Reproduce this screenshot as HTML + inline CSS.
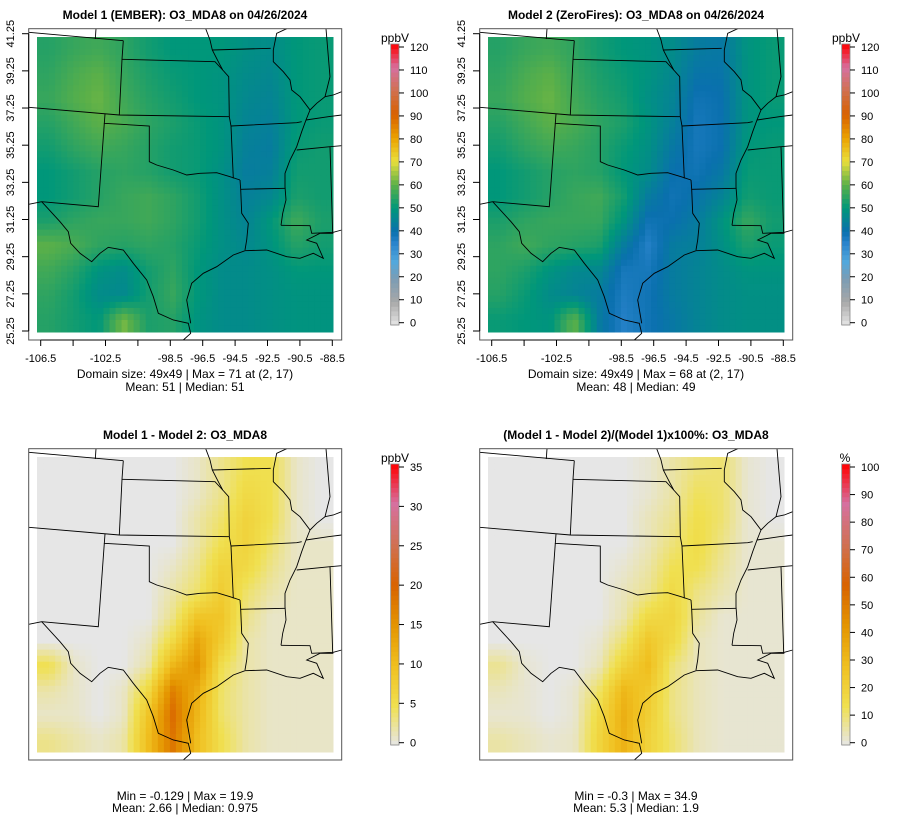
<!DOCTYPE html>
<html><head><meta charset="utf-8">
<style>
html,body{margin:0;padding:0;background:#fff;}
svg{display:block;font-family:"Liberation Sans",Arial,sans-serif;}
</style></head>
<body>
<svg id="fig" width="900" height="840" viewBox="0 0 900 840" xmlns="http://www.w3.org/2000/svg"></svg>
<script>
// ---- data (12x12 coarse grids, rows north->south, cols west->east) ----
const model1Grid = [
[54,56,57,55,52,50,50,50,48,47,50,51],
[55,58,60,56,53,51,50,49,47,46,50,51],
[56,59,61,57,54,52,50,49,46,45,50,51],
[54,57,60,58,55,53,51,49,45,44,50,51],
[52,55,57,56,54,52,51,49,44,43,51,52],
[50,52,54,55,54,52,51,48,43,44,52,52],
[50,52,54,56,57,55,52,48,44,46,53,52],
[53,55,56,56,57,55,52,48,45,50,57,53],
[60,58,55,54,55,54,51,48,46,49,54,52],
[57,54,49,47,52,55,50,47,47,48,50,50],
[55,52,47,46,52,56,50,47,47,48,49,49],
[54,52,50,62,53,54,49,47,47,48,49,49]];
const model2Grid = [
[54,56,57,55,52,50,49,47,43,42,49,51],
[55,58,60,56,53,51,49,46,41,41,49,51],
[56,59,61,57,54,52,48,45,39,40,49,51],
[54,57,60,58,55,53,49,44,38,40,49,50],
[52,55,57,56,54,51,48,42,38,40,50,51],
[50,52,54,55,54,50,47,40,39,42,51,51],
[50,52,54,56,57,52,43,39,41,45,52,51],
[53,55,56,56,56,49,39,40,43,49,56,52],
[55,57,55,54,53,43,36,43,44,48,53,51],
[55,53,49,46,46,38,38,43,45,47,49,49],
[54,51,47,45,43,37,39,43,45,47,48,48],
[51,50,49,60,43,36,39,42,45,47,48,48]];
const diffGrid = [
[0,0,0,0,0,0,1,3,5,5,1,0],
[0,0,0,0,0,0,1,3,6,5,1,0],
[0,0,0,0,0,0,2,4,7,5,1,0],
[0,0,0,0,0,0,2,5,7,4,1,1],
[0,0,0,0,0,1,3,7,6,3,1,1],
[0,0,0,0,0,2,4,8,4,2,1,1],
[0,0,0,0,0,3,9,9,3,1,1,1],
[0,0,0,0,1,6,13,8,2,1,1,1],
[5,1,0,0,2,11,15,5,2,1,1,1],
[2,1,0,1,6,17,12,4,2,1,1,1],
[1,1,0,1,9,19,11,4,2,1,1,1],
[3,2,1,2,10,18,10,5,2,1,1,1]];
const pctGrid = [
[0,0,0,0,0,0,2,6,10,11,2,0],
[0,0,0,0,0,0,2,6,13,11,2,0],
[0,0,0,0,0,0,4,8,15,11,2,0],
[0,0,0,0,0,0,4,10,16,9,2,2],
[0,0,0,0,0,2,6,14,14,7,2,2],
[0,0,0,0,0,4,8,17,9,5,2,2],
[0,0,0,0,0,5,17,19,7,2,2,2],
[0,0,0,0,2,11,25,17,4,2,2,2],
[8,2,0,0,4,20,29,10,4,2,2,2],
[4,2,0,2,12,31,24,9,4,2,2,2],
[2,2,0,2,17,34,22,9,4,2,2,2],
[6,4,2,3,19,33,20,11,4,2,2,2]];
const lonTicks = [-106.5,-104.5,-102.5,-100.5,-98.5,-96.5,-94.5,-92.5,-90.5,-88.5];
const lonLabels = ["-106.5","","-102.5","","-98.5","-96.5","-94.5","-92.5","-90.5","-88.5"];
const latTicks = [41.25,39.25,37.25,35.25,33.25,31.25,29.25,27.25,25.25];
const concTicks = [0,10,20,30,40,50,60,70,80,90,100,110,120];
const diffTicks = [0,5,10,15,20,25,30,35];
const pctTicks = [0,10,20,30,40,50,60,70,80,90,100];

const NS="http://www.w3.org/2000/svg";
const svg=document.getElementById('fig');
function mk(tag,attrs,parent){const e=document.createElementNS(NS,tag);for(const k in attrs)e.setAttribute(k,attrs[k]);(parent||svg).appendChild(e);return e;}

function hex(c){return [parseInt(c.slice(1,3),16),parseInt(c.slice(3,5),16),parseInt(c.slice(5,7),16)];}
function interp(stops,f){f=Math.max(0,Math.min(1,f));for(let i=1;i<stops.length;i++){if(f<=stops[i][0]){const a=stops[i-1],b=stops[i];const t=(f-a[0])/(b[0]-a[0]);const ca=hex(a[1]),cb=hex(b[1]);return 'rgb('+ca.map((v,j)=>Math.round(v+(cb[j]-v)*t)).join(',')+')';}}return stops[stops.length-1][1];}
const concStops=[[0,'#e6e6e6'],[10/120,'#a8a8a8'],[20/120,'#7a9cb4'],[27/120,'#52a8dc'],[35/120,'#2a84cc'],[40/120,'#0a70ae'],[50/120,'#00977a'],[60/120,'#5cb048'],[70/120,'#eadf3c'],[80/120,'#eba200'],[90/120,'#d86000'],[100/120,'#d0704e'],[110/120,'#d670a0'],[1,'#ff0000']];
const diffStops=[[0,'#e6e6e6'],[0.14,'#f0e050'],[0.28,'#f0c020'],[0.43,'#e49400'],[0.57,'#d86200'],[0.71,'#d07050'],[0.86,'#d670a0'],[1,'#ff0000']];

// sample grid bilinearly at fractional position (for smooth display)
function sample(grid,fr,fc){
  const n=grid.length,m=grid[0].length;
  let r=fr*n-0.5,c=fc*m-0.5;
  r=Math.max(0,Math.min(n-1,r));c=Math.max(0,Math.min(m-1,c));
  const r0=Math.floor(r),c0=Math.floor(c),r1=Math.min(n-1,r0+1),c1=Math.min(m-1,c0+1);
  const tr=r-r0,tc=c-c0;
  return grid[r0][c0]*(1-tr)*(1-tc)+grid[r0][c1]*(1-tr)*tc+grid[r1][c0]*tr*(1-tc)+grid[r1][c1]*tr*tc;
}

const borders=[
[[86,97],[370,122]],[[288,86],[286,117]],
[[370,122],[366,178],[358,345]],
[[366,178],[645,185],[668,210],[686,230],[688,350]],
[[617,86],[630,120],[637,150],[655,185],[668,210]],
[[637,150],[812,145]],
[[860,86],[830,100],[820,150],[820,185],[850,215],[870,240],[875,270],[900,290],[915,310],[930,330],[918,360],[905,395],[890,440],[870,480],[855,520],[855,560],[858,600],[848,640],[843,676]],
[[978,86],[990,230],[975,290],[950,310],[930,330]],
[[975,290],[1000,285],[1025,275]],
[[918,360],[985,350],[1025,345]],
[[890,450],[990,440],[1025,437]],
[[990,440],[998,700]],
[[86,322],[358,345],[688,350]],
[[315,342],[313,370],[448,378],[448,485],[470,495],[520,510],[560,525],[600,520],[650,518],[690,530],[720,540]],
[[688,350],[693,378],[700,535]],
[[693,378],[890,368],[905,365]],
[[313,370],[295,620],[125,605],[86,613]],
[[720,540],[722,568],[855,565]],
[[722,568],[725,640],[745,670],[740,720],[735,750]],
[[843,676],[930,677],[935,700],[1000,697],[1025,690]],
[[125,605],[180,665],[205,695],[212,730],[240,760],[275,785],[300,760],[325,742],[370,750],[400,790],[440,840],[460,890],[475,940],[520,960],[565,970],[572,1000],[550,1020]],
[[572,970],[560,900],[575,850],[610,820],[650,800],[700,765],[735,752],[800,750],[860,770],[900,775],[940,760],[970,775],[950,730],[920,720],[960,700],[1000,700]]
];

function panel(ox,oy,name,title,grid,stops,vmax,ticks,unit,line1,line2,showAxes){
  const g=mk('g',{transform:'translate('+ox+','+oy+')'});
  
  
  const t=mk('text',{x:185,y:19,'text-anchor':'middle','font-size':12,'font-weight':'bold',fill:'#000'},g);
  t.textContent=title;
  
  
  const x0=37,y0=37,w=296,h=295,N=49;
  const hm=mk('g',{},g);
  
  
  const cw=w/N,ch=h/N;
  for(let r=0;r<N;r++)for(let c=0;c<N;c++){
    const v=sample(grid,(r+0.5)/N,(c+0.5)/N);
    const cell=mk('rect',{x:(x0+c*cw).toFixed(2),y:(y0+r*ch).toFixed(2),width:(cw+0.5).toFixed(2),height:(ch+0.5).toFixed(2),fill:interp(stops,v/vmax)},hm);
    
    
  }
  const bg=mk('g',{fill:'none',stroke:'#000','stroke-width':0.9},g);
  
  
  borders.forEach(b=>{mk('polyline',{points:b.map(p=>(p[0]/3).toFixed(1)+','+(p[1]/3).toFixed(1)).join(' ')},bg);});
  const box=mk('rect',{x:28.7,y:28.7,width:313,height:311.3,fill:'none',stroke:'#555','stroke-width':1},g);
  
  
  if(showAxes){
    const lonX=v=>40.7+(v+106.5)*(332.3-40.7)/18;
    const latY=v=>33.7+(41.25-v)*(331-33.7)/16;
    const xa=mk('g',{},g);
    
    
    mk('line',{x1:lonX(-106.5),x2:lonX(-88.5),y1:340,y2:340,stroke:'#000'},xa);
    lonTicks.forEach((v,i)=>{mk('line',{x1:lonX(v),x2:lonX(v),y1:340,y2:346,stroke:'#000'},xa);
      if(lonLabels[i]){const l=mk('text',{x:lonX(v),y:362,'text-anchor':'middle','font-size':11},xa);l.textContent=lonLabels[i];
      
      }});
    const ya=mk('g',{},g);
    
    
    mk('line',{x1:28.7,x2:28.7,y1:latY(41.25),y2:latY(25.25),stroke:'#000'},ya);
    latTicks.forEach(v=>{mk('line',{x1:22,x2:28.7,y1:latY(v),y2:latY(v),stroke:'#000'},ya);
      const l=mk('text',{x:14,y:latY(v),'text-anchor':'middle','font-size':11,transform:'rotate(-90 14 '+latY(v)+')'},ya);l.textContent=String(v.toFixed(2));
      
      });
  }
  const cb=mk('g',{},g);
  
  
  const by0=44,by1=325,tk0=47,tk1=322.7;
  const nb=60;
  for(let i=0;i<nb;i++){const yy=by1-(i+1)*(by1-by0)/nb;
    mk('rect',{x:391,y:yy.toFixed(2),width:8,height:((by1-by0)/nb+0.5).toFixed(2),fill:interp(stops,(i+0.5)/nb)},cb);}
  mk('rect',{x:390.7,y:by0,width:8.3,height:by1-by0,fill:'none',stroke:'#888','stroke-width':0.8},cb);
  const tmax=ticks[ticks.length-1];
  ticks.forEach(v=>{const yy=tk1-(v/tmax)*(tk1-tk0);mk('line',{x1:399,x2:404,y1:yy,y2:yy,stroke:'#000'},cb);
    const l=mk('text',{x:410,y:yy+4,'font-size':11},cb);l.textContent=v;
    
    });
  const u=mk('text',{x:unit==='%'?394:395,y:42,'text-anchor':'middle','font-size':12},cb);u.textContent=unit;
  
  
  const yl1=showAxes?378:380, yl2=showAxes?391:392;
  const s1=mk('text',{x:185,y:yl1,'text-anchor':'middle','font-size':12},g);s1.textContent=line1;
  
  
  const s2=mk('text',{x:185,y:yl2,'text-anchor':'middle','font-size':12},g);s2.textContent=line2;
  
  
}
panel(0,0,'panel-model1','Model 1 (EMBER): O3_MDA8 on 04/26/2024',model1Grid,concStops,120,concTicks,'ppbV','Domain size: 49x49 | Max = 71 at (2, 17)','Mean: 51 |  Median: 51',true);
panel(451,0,'panel-model2','Model 2 (ZeroFires): O3_MDA8 on 04/26/2024',model2Grid,concStops,120,concTicks,'ppbV','Domain size: 49x49 | Max = 68 at (2, 17)','Mean: 48 |  Median: 49',true);
panel(0,420,'panel-difference','Model 1 - Model 2: O3_MDA8',diffGrid,diffStops,35,diffTicks,'ppbV','Min = -0.129 | Max = 19.9','Mean: 2.66 |  Median: 0.975',false);
panel(451,420,'panel-percent-difference','(Model 1 - Model 2)/(Model 1)x100%: O3_MDA8',pctGrid,diffStops,100,pctTicks,'%','Min = -0.3 | Max = 34.9','Mean: 5.3 |  Median: 1.9',false);
</script>
</body></html>
